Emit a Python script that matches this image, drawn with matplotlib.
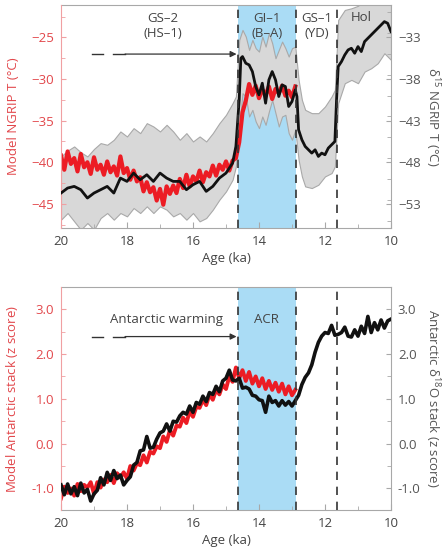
import numpy as np
import matplotlib
matplotlib.use("Agg")
import matplotlib.pyplot as plt
from matplotlib.ticker import MultipleLocator, FormatStrFormatter

plt.rcParams['font.family'] = ['Open Sans', 'DejaVu Sans']
plt.rcParams['mathtext.default'] = 'regular'

# ---- top panel: NGRIP ----
# model temperature (left axis, degC), every 0.1 ka from 20.0 to 12.9
red_top_age = np.round(np.arange(20.0, 12.85, -0.1), 1)
red_top = [-39.2, -40.9, -38.7, -40.2, -39.5, -41.1, -39.0, -40.6, -40.0, -41.4,
           -39.4, -40.9, -40.3, -41.5, -39.9, -41.2, -40.5, -41.6, -39.3, -41.3,
           -40.7, -42.1, -41.0, -42.3, -41.8, -43.5, -42.4, -43.6, -43.0, -44.6,
           -43.2, -45.1, -42.9, -43.8, -42.8, -43.7, -42.0, -43.1, -41.5, -42.9,
           -41.7, -42.3, -41.0, -42.4, -41.2, -41.7, -40.4, -41.6, -40.3, -40.9,
           -39.9, -41.0, -39.8, -39.5, -37.6, -34.0, -32.6, -30.6, -31.9, -30.8,
           -32.3, -31.3, -31.9, -30.9, -32.4, -31.2, -31.7, -30.8, -32.0, -31.4,
           -32.2, -30.9]

# d15N temperature (right axis, degC)
blk_top_age = [20.0, 19.8, 19.6, 19.4, 19.2, 19.0, 18.8, 18.6, 18.4, 18.2, 18.0, 17.8,
               17.6, 17.4, 17.2, 17.0, 16.8, 16.6, 16.4, 16.2, 16.0, 15.8, 15.6, 15.4,
               15.2, 15.0, 14.8, 14.7, 14.6, 14.55, 14.5, 14.4, 14.3, 14.2, 14.1, 14.0,
               13.9, 13.8, 13.7, 13.6, 13.5, 13.4, 13.3, 13.2, 13.1, 13.0, 12.9, 12.85,
               12.8, 12.7, 12.6, 12.5, 12.4, 12.3, 12.2, 12.1, 12.0, 11.9, 11.8, 11.7,
               11.65, 11.6, 11.5, 11.4, 11.3, 11.2, 11.1, 11.0, 10.9, 10.8, 10.6, 10.4,
               10.3, 10.2, 10.1, 10.0]
blk_top = [-51.7, -51.1, -50.9, -51.3, -52.3, -51.7, -51.3, -50.9, -51.7, -49.9, -50.3, -49.3,
           -50.1, -49.5, -50.3, -49.3, -49.9, -50.3, -50.3, -51.3, -50.7, -50.3, -51.5, -50.9,
           -49.9, -49.3, -48.1, -46.1, -40.5, -35.5, -35.3, -36.1, -36.3, -37.1, -38.9, -39.9,
           -38.5, -40.9, -38.1, -37.1, -38.1, -40.1, -38.7, -38.9, -41.3, -40.7, -39.3, -40.1,
           -44.1, -45.3, -46.1, -46.5, -46.9, -46.5, -47.3, -46.9, -47.1, -46.3, -45.9, -45.5,
           -40.5, -36.5, -35.9, -35.1, -34.5, -34.3, -34.9, -34.1, -34.7, -33.5, -32.7, -31.9,
           -31.5, -31.1, -31.3, -32.3]

# uncertainty envelope (right axis, degC)
band_age = [20.0, 19.8, 19.6, 19.4, 19.2, 19.0, 18.8, 18.6, 18.4, 18.2, 18.0, 17.8, 17.6,
            17.4, 17.2, 17.0, 16.8, 16.6, 16.4, 16.2, 16.0, 15.8, 15.6, 15.4, 15.2, 15.0,
            14.8, 14.7, 14.6, 14.5, 14.4, 14.3, 14.2, 14.1, 14.0, 13.9, 13.8, 13.7, 13.6,
            13.5, 13.4, 13.3, 13.2, 13.1, 13.0, 12.9, 12.8, 12.7, 12.6, 12.4, 12.2, 12.0,
            11.8, 11.7, 11.6, 11.5, 11.4, 11.2, 11.0, 10.8, 10.6, 10.4, 10.2, 10.0]
band_hi = [-47.3, -46.6, -46.1, -46.8, -47.3, -46.4, -45.7, -45.9, -45.3, -44.3, -44.9, -43.9,
           -44.5, -43.3, -43.7, -44.3, -43.5, -44.3, -45.3, -44.5, -45.5, -44.9, -45.5, -44.5,
           -43.3, -42.3, -40.9, -40.1, -33.3, -32.1, -32.9, -34.5, -33.3, -34.3, -34.7, -32.9,
           -34.1, -32.5, -33.7, -35.5, -34.5, -33.5, -34.3, -35.3, -34.3, -34.1, -38.1, -40.5,
           -41.7, -42.1, -42.1, -41.3, -40.1, -39.3, -30.9, -30.3, -29.7, -29.5, -29.2, -28.5,
           -28.0, -27.5, -27.5, -27.8]
band_lo = [-54.9, -54.1, -55.1, -56.1, -55.3, -56.1, -54.7, -54.1, -54.9, -54.1, -54.5, -53.5,
           -54.1, -53.3, -54.1, -53.3, -53.7, -54.5, -54.1, -54.9, -54.1, -55.1, -54.7, -53.7,
           -52.5, -51.5, -50.1, -48.5, -43.7, -39.7, -40.1, -42.5, -41.7, -43.1, -43.9, -42.5,
           -43.5, -41.9, -40.5, -42.1, -43.7, -42.5, -42.3, -44.5, -45.3, -44.1, -47.7, -49.7,
           -50.9, -51.1, -50.7, -49.7, -49.3, -48.5, -40.9, -39.7, -38.5, -38.1, -38.5, -37.1,
           -36.7, -36.1, -34.9, -35.7]

# ---- bottom panel: Antarctic stack (z score) ----
red_bot_age = np.round(np.arange(20.0, 12.85, -0.1), 1)
red_bot = [-1.22, -0.96, -1.10, -1.00, -1.16, -0.90, -1.06, -0.92, -0.98, -0.86,
           -1.12, -0.86, -0.98, -0.80, -0.86, -0.70, -0.88, -0.66, -0.76, -0.64,
           -0.78, -0.50, -0.60, -0.44, -0.48, -0.26, -0.42, -0.18, -0.22, -0.06,
           -0.10, 0.16, 0.04, 0.30, 0.18, 0.40, 0.38, 0.58, 0.46, 0.72,
           0.60, 0.82, 0.80, 0.98, 0.86, 1.10, 0.98, 1.20, 1.10, 1.32,
           1.22, 1.50, 1.38, 1.70, 1.46, 1.64, 1.40, 1.60, 1.34, 1.50,
           1.28, 1.46, 1.22, 1.40, 1.20, 1.36, 1.16, 1.34, 1.10, 1.28,
           1.08, 1.20]

blk_bot_age = np.round(np.arange(20.0, 9.95, -0.1), 1)
blk_bot = [-0.92, -1.14, -0.90, -1.12, -0.96, -1.16, -0.88, -1.10, -1.02, -1.28,
           -1.12, -1.04, -0.76, -0.92, -0.64, -0.82, -0.60, -0.78, -0.70, -0.92,
           -0.82, -0.74, -0.48, -0.42, -0.16, -0.14, 0.16, -0.10, -0.08, 0.10,
           0.24, 0.28, 0.44, 0.28, 0.50, 0.48, 0.62, 0.70, 0.66, 0.84,
           0.70, 0.92, 0.88, 1.06, 0.94, 1.14, 1.10, 1.28, 1.16, 1.40,
           1.46, 1.64, 1.42, 1.40, 1.46, 1.24, 1.26, 1.22, 1.08, 1.06,
           0.98, 0.96, 0.70, 1.06, 0.92, 0.96, 0.84, 0.96, 0.86, 0.94,
           0.84, 0.96, 1.08, 1.32, 1.48, 1.58, 1.76, 2.04, 2.26, 2.40,
           2.48, 2.46, 2.64, 2.42, 2.44, 2.48, 2.60, 2.40, 2.38, 2.54,
           2.40, 2.62, 2.46, 2.84, 2.48, 2.70, 2.54, 2.76, 2.58, 2.74,
           2.78]

event_lines = [14.65, 12.87, 11.65]
warm_span = (14.65, 12.87)

RED = '#ec1c24'
RED_TXT = '#e2474b'
GREY_TXT = '#555555'
SPINE = '#a8a8a8'
BLUE = '#aadcf5'

fig = plt.figure(figsize=(4.44, 5.53), dpi=100)


def build(rect, left_lim, right_lim, left_ticks, right_ticks, left_label, right_label):
    axb = fig.add_axes(rect)            # right axis: shading, band
    ax = axb.twinx()                    # left axis: model (red)
    axk = axb.twinx()                   # right axis again: data (black)
    ax.yaxis.tick_left()
    ax.yaxis.set_label_position('left')
    axb.yaxis.tick_right()
    axb.set_zorder(1)
    ax.set_zorder(2)
    axk.set_zorder(3)
    ax.patch.set_visible(False)
    axk.patch.set_visible(False)

    for a in (axb, ax, axk):
        a.set_xlim(20, 10)
    axb.set_ylim(*right_lim)
    axk.set_ylim(*right_lim)
    ax.set_ylim(*left_lim)

    axb.axvspan(*warm_span, color=BLUE, lw=0, zorder=0)
    for x in event_lines:
        axk.axvline(x, color='#333333', lw=1.2, ls=(0, (5, 4)), zorder=5)

    # spines
    for a in (ax, axk):
        for s in a.spines.values():
            s.set_visible(False)
    for name in ('top', 'bottom', 'right'):
        axb.spines[name].set_color(SPINE)
    axb.spines['left'].set_visible(False)
    ax.spines['left'].set_visible(True)
    ax.spines['left'].set_color('#f0a0a2')

    axk.set_yticks([])
    axb.set_yticks(right_ticks)
    axb.yaxis.set_minor_locator(MultipleLocator((right_ticks[1] - right_ticks[0]) / 2))
    ax.set_yticks(left_ticks)
    ax.yaxis.set_minor_locator(MultipleLocator((left_ticks[1] - left_ticks[0]) / 2))

    axb.xaxis.set_major_locator(MultipleLocator(2))
    axb.xaxis.set_minor_locator(MultipleLocator(1))
    axb.tick_params(axis='x', which='both', direction='in', colors=SPINE,
                    labelcolor='#444444', labelsize=9.5, top=False, pad=5)
    axb.tick_params(axis='x', which='major', length=4)
    axb.tick_params(axis='x', which='minor', length=3)
    axb.tick_params(axis='y', which='both', direction='in', colors=SPINE,
                    labelcolor=GREY_TXT, labelsize=9.5, pad=5)
    axb.tick_params(axis='y', which='minor', length=3)
    ax.tick_params(axis='y', which='both', direction='in', colors='#f0a0a2',
                   labelcolor=RED_TXT, labelsize=9.5, pad=5)
    ax.tick_params(axis='y', which='minor', length=3)
    ax.tick_params(axis='x', which='both', bottom=False, labelbottom=False)

    axb.set_xlabel('Age (ka)', color='#444444', fontsize=9.5, labelpad=3)
    ax.set_ylabel(left_label, color=RED_TXT, fontsize=9.5)
    ax.yaxis.set_label_coords(-0.125, 0.5)
    # right-hand axis title, reading top to bottom
    fig.text(0.973, rect[1] + rect[3] / 2, right_label, color=GREY_TXT, fontsize=9.5,
             rotation=270, ha='center', va='center')
    return axb, ax, axk


# top panel
axb, ax, axk = build([0.1374, 0.5877, 0.7432, 0.4033], (-47.9, -21.1), (-55.9, -29.1),
                     [-45, -40, -35, -30, -25], [-53, -48, -43, -38, -33],
                     'Model NGRIP T (°C)', r'$\delta^{15}$ NGRIP T (°C)')
axb.fill_between(band_age, band_lo, band_hi, facecolor='#d8d8d8', edgecolor='#a9a9a9',
                 lw=0.8, zorder=1)
ax.plot(red_top_age, red_top, color=RED, lw=3.0)
axk.plot(blk_top_age, blk_top, color='#111111', lw=2.0)

txt = dict(color='#444444', fontsize=9.5, ha='center', va='center', linespacing=1.2)
ax.text(16.9, -23.6, 'GS–2\n(HS–1)', **txt)
ax.text(13.76, -23.6, 'GI–1\n(B–A)', **txt)
ax.text(12.26, -23.6, 'GS–1\n(YD)', **txt)
ax.text(10.9, -22.6, 'Hol', **txt)
for x0, x1 in [(19.06, 18.73), (18.42, 18.06)]:
    ax.plot([x0, x1], [-27.0, -27.0], color='#333333', lw=1.0)
ax.annotate('', xy=(14.68, -27.0), xytext=(18.06, -27.0),
            arrowprops=dict(arrowstyle='-|>', color='#333333', lw=0.9,
                            mutation_scale=9, shrinkA=0, shrinkB=0))

# bottom panel
axb2, ax2, axk2 = build([0.1374, 0.0778, 0.7432, 0.4027], (-1.48, 3.49), (-1.48, 3.49),
                        [-1.0, 0.0, 1.0, 2.0, 3.0], [-1.0, 0.0, 1.0, 2.0, 3.0],
                        'Model Antarctic stack ($z$ score)',
                        r'Antarctic $\delta^{18}$O stack ($z$ score)')
for a in (ax2, axb2):
    a.yaxis.set_major_formatter(FormatStrFormatter('%.1f'))
ax2.plot(red_bot_age, red_bot, color=RED, lw=2.8)
axk2.plot(blk_bot_age, blk_bot, color='#111111', lw=2.6)

ax2.text(16.8, 2.78, 'Antarctic warming', **txt)
ax2.text(13.76, 2.78, 'ACR', **txt)
for x0, x1 in [(19.06, 18.73), (18.42, 18.06)]:
    ax2.plot([x0, x1], [2.39, 2.39], color='#333333', lw=1.0)
ax2.annotate('', xy=(14.68, 2.39), xytext=(18.06, 2.39),
             arrowprops=dict(arrowstyle='-|>', color='#333333', lw=0.9,
                             mutation_scale=9, shrinkA=0, shrinkB=0))

fig.savefig('out.png', dpi=100)
